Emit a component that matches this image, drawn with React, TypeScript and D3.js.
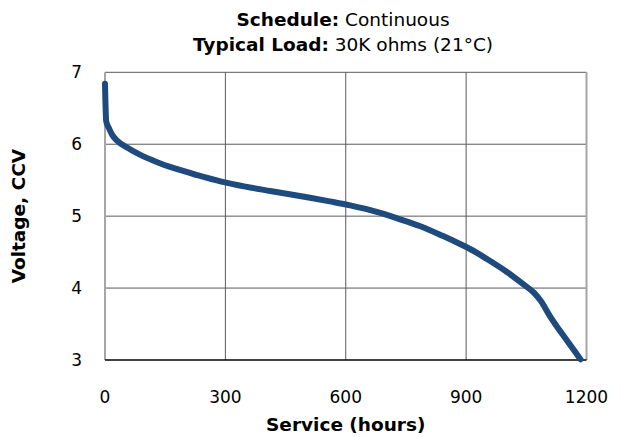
import React from 'react'
import * as d3 from "d3";

// service hours vs closed circuit voltage
const hours = [0, 3, 10, 18, 30, 55, 87, 130, 170, 230, 290, 350, 412, 460, 511, 560, 611, 650, 686, 728, 786, 840, 886, 911, 953, 1000, 1043, 1070, 1085, 1110, 1150, 1185]
const volts = [6.84, 6.32, 6.22, 6.13, 6.05, 5.955, 5.855, 5.75, 5.67, 5.57, 5.48, 5.41, 5.35, 5.305, 5.255, 5.205, 5.15, 5.10, 5.045, 4.97, 4.86, 4.73, 4.61, 4.54, 4.40, 4.23, 4.05, 3.93, 3.83, 3.60, 3.28, 3.01]

const xTicks = [0, 300, 600, 900, 1200]
const yTicks = [3, 4, 5, 6, 7]

const font = "Tahoma, 'DejaVu Sans', sans-serif"

export default function App() {
  const width = 622
  const height = 437
  const margin = { top: 72.3, right: 35.5, bottom: 77, left: 105 }
  const boundedWidth = width - margin.left - margin.right
  const boundedHeight = height - margin.top - margin.bottom

  const xScale = d3.scaleLinear().domain([0, 1200]).range([0, boundedWidth])
  const yScale = d3.scaleLinear().domain([3, 7]).range([boundedHeight, 0])

  const points = hours.map((h, i) => [h, volts[i]] as [number, number])
  const lineGenerator = d3.line<[number, number]>()
    .x(d => xScale(d[0]))
    .y(d => yScale(d[1]))
    .curve(d3.curveMonotoneX)

  return (
    <svg width={width} height={height} style={{ position: 'absolute', left: 0, top: 0 }} fontFamily={font}>
      <text x={343} y={26} textAnchor="middle" fontSize={18.5} fill="#000">
        <tspan fontWeight="bold">Schedule:</tspan> Continuous
      </text>
      <text x={343} y={51} textAnchor="middle" fontSize={18.5} fill="#000">
        <tspan fontWeight="bold">Typical Load:</tspan> 30K ohms (21°C)
      </text>

      <g transform={`translate(${margin.left},${margin.top})`}>
        {yTicks.filter(t => t !== 3).map(t => (
          <line key={'gy' + t} x1={0} x2={boundedWidth} y1={yScale(t)} y2={yScale(t)} stroke="#5a5a5a" strokeWidth={1} />
        ))}
        {xTicks.filter(t => t !== 0 && t !== 1200).map(t => (
          <line key={'gx' + t} x1={xScale(t)} x2={xScale(t)} y1={0} y2={boundedHeight} stroke="#5a5a5a" strokeWidth={1} />
        ))}
        <line x1={0} x2={0} y1={0} y2={boundedHeight} stroke="#a6a6a6" strokeWidth={2} />
        <line x1={boundedWidth} x2={boundedWidth} y1={0} y2={boundedHeight} stroke="#a6a6a6" strokeWidth={2} />
        <line x1={0} x2={boundedWidth} y1={boundedHeight} y2={boundedHeight} stroke="#000" strokeWidth={1.5} />

        <path d={lineGenerator(points) ?? ''} fill="none" stroke="#1f4a7e" strokeWidth={6} strokeLinecap="round" strokeLinejoin="round" />

        {yTicks.map(t => (
          <text key={'ty' + t} x={-23} y={yScale(t)} dy="0.35em" textAnchor="end" fontSize={17} fill="#000">{t}</text>
        ))}
        {xTicks.map(t => (
          <text key={'tx' + t} x={xScale(t)} y={boundedHeight + 43} textAnchor="middle" fontSize={17} fill="#000">{t}</text>
        ))}
        <text x={boundedWidth / 2} y={boundedHeight + 71} textAnchor="middle" fontSize={18.5} fontWeight="bold" fill="#000">Service (hours)</text>
        <text transform={`translate(${-80},${boundedHeight / 2}) rotate(-90)`} textAnchor="middle" fontSize={18.5} fontWeight="bold" fill="#000">Voltage, CCV</text>
      </g>
    </svg>
  )
}
